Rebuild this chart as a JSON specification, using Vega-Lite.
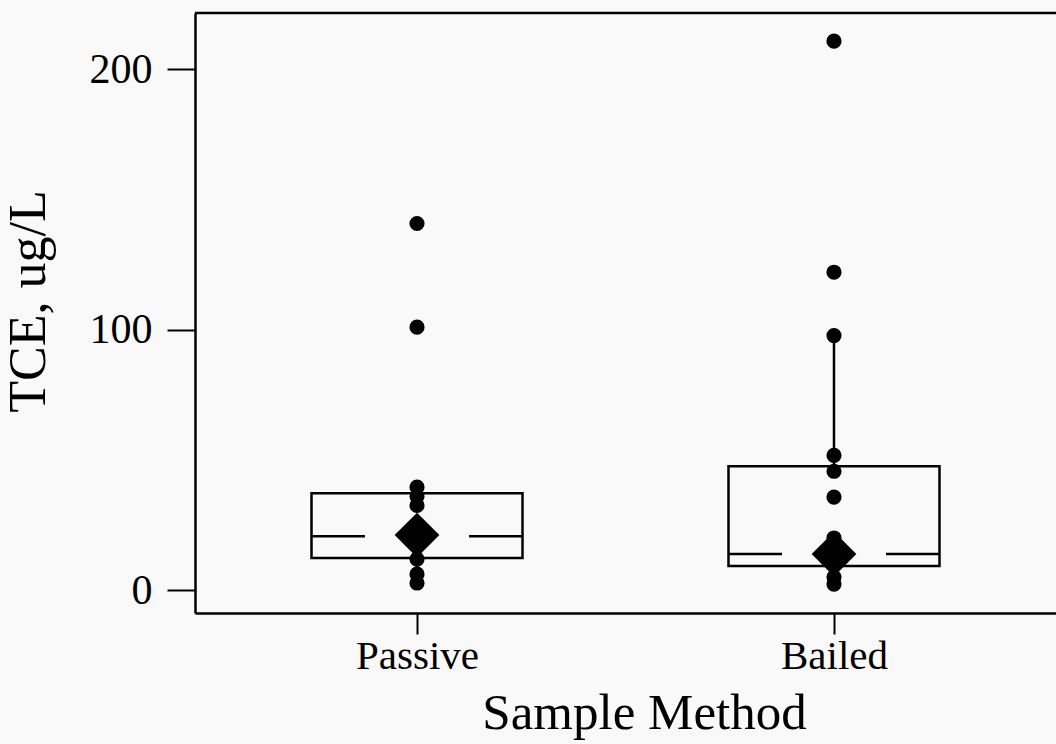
{
  "$schema": "https://vega.github.io/schema/vega-lite/v6.json",
  "width": 861,
  "height": 600,
  "autosize": {"type": "none"},
  "padding": {"left": 195, "top": 13, "right": 0, "bottom": 131},
  "background": "#f9f9f9",
  "config": {
    "view": {"stroke": null},
    "font": "Liberation Serif",
    "axis": {
      "domainColor": "black", "domainWidth": 2.5, "tickColor": "black", "tickWidth": 2,
      "grid": false, "labelColor": "black", "titleColor": "black", "titleFontWeight": "normal",
      "labelFont": "Liberation Serif", "titleFont": "Liberation Serif"
    }
  },
  "datasets": {
    "box": [
      {"method": "Passive", "lower": 2.7, "q1": 12.3, "median": 20.7, "q3": 37.2, "upper": 39.5, "mean": 21.1},
      {"method": "Bailed", "lower": 2.3, "q1": 9.2, "median": 13.8, "q3": 47.5, "upper": 97.7, "mean": 13.8}
    ],
    "pts": [
      {"method": "Passive", "tce": 140.7},
      {"method": "Passive", "tce": 100.9},
      {"method": "Passive", "tce": 39.5},
      {"method": "Passive", "tce": 36.0},
      {"method": "Passive", "tce": 32.5},
      {"method": "Passive", "tce": 11.9},
      {"method": "Passive", "tce": 6.1},
      {"method": "Passive", "tce": 2.7},
      {"method": "Bailed", "tce": 210.7},
      {"method": "Bailed", "tce": 122.0},
      {"method": "Bailed", "tce": 97.7},
      {"method": "Bailed", "tce": 51.7},
      {"method": "Bailed", "tce": 45.6},
      {"method": "Bailed", "tce": 35.7},
      {"method": "Bailed", "tce": 20.0},
      {"method": "Bailed", "tce": 5.0},
      {"method": "Bailed", "tce": 2.3}
    ],
    "frame": [{"top": 221.5}]
  },
  "layer": [
    {
      "data": {"name": "box"},
      "mark": {"type": "rule", "color": "black", "strokeWidth": 2.5},
      "encoding": {
        "x": {"field": "method", "type": "nominal", "sort": ["Passive", "Bailed"],
              "scale": {"type": "point", "padding": 0.5324},
              "axis": {"labelAngle": 0, "tickSize": 21, "labelPadding": 2, "labelFontSize": 41,
                       "title": "Sample Method", "titleFontSize": 51, "titlePadding": 12, "titleX": 449}},
        "y": {"field": "lower", "type": "quantitative",
              "scale": {"domain": [-8.8, 221.5], "nice": false, "zero": false},
              "axis": {"values": [0, 100, 200], "tickSize": 28, "labelPadding": 15, "labelFontSize": 42,
                       "title": "TCE, ug/L", "titleFontSize": 52, "titlePadding": 34, "titleY": 288}},
        "y2": {"field": "upper"}
      }
    },
    {
      "data": {"name": "box"},
      "mark": {"type": "bar", "size": 211, "fill": "#f9f9f9", "stroke": "black", "strokeWidth": 2.5},
      "encoding": {
        "x": {"field": "method", "type": "nominal", "sort": ["Passive", "Bailed"]},
        "y": {"field": "q1", "type": "quantitative"},
        "y2": {"field": "q3"}
      }
    },
    {
      "data": {"name": "box"},
      "mark": {"type": "tick", "size": 211, "thickness": 2.5, "color": "black", "opacity": 1},
      "encoding": {
        "x": {"field": "method", "type": "nominal", "sort": ["Passive", "Bailed"]},
        "y": {"field": "median", "type": "quantitative"}
      }
    },
    {
      "data": {"name": "box"},
      "mark": {"type": "tick", "size": 104, "thickness": 6, "color": "#f9f9f9", "opacity": 1},
      "encoding": {
        "x": {"field": "method", "type": "nominal", "sort": ["Passive", "Bailed"]},
        "y": {"field": "median", "type": "quantitative"}
      }
    },
    {
      "data": {"name": "pts"},
      "mark": {"type": "point", "shape": "circle", "filled": true, "size": 230, "color": "black", "opacity": 1},
      "encoding": {
        "x": {"field": "method", "type": "nominal", "sort": ["Passive", "Bailed"]},
        "y": {"field": "tce", "type": "quantitative"}
      }
    },
    {
      "data": {"name": "box"},
      "mark": {"type": "point", "shape": "diamond", "filled": true, "size": 2000, "color": "black", "opacity": 1},
      "encoding": {
        "x": {"field": "method", "type": "nominal", "sort": ["Passive", "Bailed"]},
        "y": {"field": "mean", "type": "quantitative"}
      }
    },
    {
      "data": {"name": "frame"},
      "mark": {"type": "rule", "color": "black", "strokeWidth": 2.5},
      "encoding": {
        "y": {"field": "top", "type": "quantitative"}
      }
    }
  ]
}
